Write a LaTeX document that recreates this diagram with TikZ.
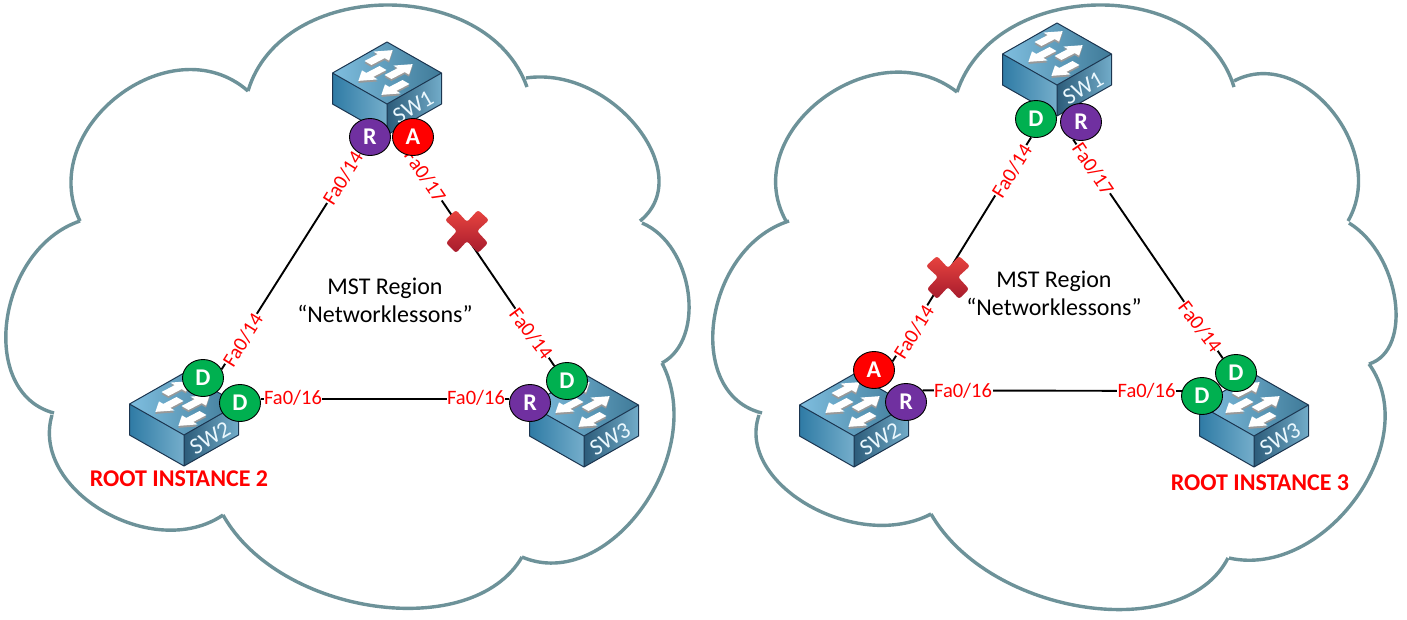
\documentclass[tikz,border=0pt]{standalone}
\usepackage{fontspec}
\setmainfont{Carlito}
\usetikzlibrary{shapes.geometric,backgrounds,calc}
\definecolor{cloudc}{HTML}{6D9299}
\definecolor{greenp}{HTML}{00B050}
\definecolor{purplep}{HTML}{7030A0}
\definecolor{redp}{HTML}{FF0000}
\definecolor{swedge}{HTML}{1B3550}
\definecolor{swtop1}{HTML}{7FBEDF}
\definecolor{swtop2}{HTML}{3F7A98}
\definecolor{swleft1}{HTML}{2F7BA5}
\definecolor{swleft2}{HTML}{75AECB}
\definecolor{swright1}{HTML}{2C5C7A}
\definecolor{swright2}{HTML}{72ACC9}
\definecolor{crosstop}{HTML}{E8443F}
\definecolor{crossbot}{HTML}{A61B2D}
\newcommand{\IsoArrow}[3]{% tail x, tail y, sign
  \begin{scope}[shift={(#1,#2+2)},x={(#3*0.88pt,#3*0.46pt)},y={(0.87pt,-0.5pt)}]
    \fill[black!40] (0,-4) -- (15,-4) -- (15,-9) -- (28,0) -- (15,9) -- (15,4) -- (0,4) -- cycle;
  \end{scope}
  \begin{scope}[shift={(#1,#2)},x={(#3*0.88pt,#3*0.46pt)},y={(0.87pt,-0.5pt)}]
    \fill[white] (0,-4) -- (15,-4) -- (15,-9) -- (28,0) -- (15,9) -- (15,4) -- (0,4) -- cycle;
  \end{scope}}
\newcommand{\Lobe}[3]{%
  \draw[cloudline] let \p1=(#1),\p2=(#2),\p3=(#3),
     \n1={veclen(\x3-\x1,\y3-\y1)},
     \n2={veclen(\x2-(\x1+\x3)/2,\y2-(\y1+\y3)/2)},
     \n3={0.167+0.667*\n2/\n1} in
     (\p1) .. controls
       ({(8*\x2-\x1-\x3)/6-\n3*(\x3-\x1)},{(8*\y2-\y1-\y3)/6-\n3*(\y3-\y1)}) and
       ({(8*\x2-\x1-\x3)/6+\n3*(\x3-\x1)},{(8*\y2-\y1-\y3)/6+\n3*(\y3-\y1)}) .. (\p3);}
\tikzset{
  x=1pt,y=-1pt,
  cloudline/.style={draw=cloudc,line width=3.4pt},
  link/.style={draw=black,line width=1.9pt},
  port/.style={ellipse,draw=black,line width=0.9pt,minimum width=41pt,minimum height=37pt,inner sep=0pt,text=white,font=\fontsize{24}{24}\selectfont\bfseries},
  dport/.style={port,fill=greenp},
  rport/.style={port,fill=purplep},
  aport/.style={port,fill=redp},
  iflabel/.style={text=red,fill=white,inner sep=0.6pt,font=\fontsize{20.5}{20.5}\selectfont},
  regiontext/.style={align=center,text=black,font=\fontsize{24}{28}\selectfont},
  roottext/.style={text=red,font=\fontsize{24}{24}\selectfont\bfseries},
  pics/switchicon/.style={code={
    \shade[shading angle=60,left color=swtop1,right color=swtop2] (0,0) -- (54.5,31) -- (0,62) -- (-54.5,31) -- cycle;
    \shade[shading angle=70,left color=swleft1,right color=swleft2] (-54.5,31) -- (0,62) -- (0,93) -- (-54.5,62) -- cycle;
    \shade[shading angle=-30,left color=swright1,right color=swright2] (0,62) -- (54.5,31) -- (54.5,62) -- (0,93) -- cycle;
    \draw[swedge,line width=1pt,line join=round] (0,0) -- (54.5,31) -- (54.5,62) -- (0,93) -- (-54.5,62) -- (-54.5,31) -- cycle
      (-54.5,31) -- (0,62) -- (54.5,31) (0,62) -- (0,93);
    \IsoArrow{-19}{21}{1}
    \IsoArrow{-4}{26}{-1}
    \IsoArrow{1}{35}{1}
    \IsoArrow{19}{40}{-1}
    \node[rotate=30,text=white!92!cyan,inner sep=0pt,font=\fontsize{23}{23}\selectfont] (-name) at (26,65) {#1};
  }},
  pics/blockx/.style={code={
    \shade[top color=crosstop,bottom color=crossbot,rounded corners=2.5pt]
      (-22,-11) -- (-11,-21) -- (0,-9) -- (11,-21) -- (22,-11) -- (10,0) -- (21,12) -- (11,22) -- (0,10) -- (-11,22) -- (-21,12) -- (-10,0) -- cycle;
  }}
}
\begin{document}
\begin{tikzpicture}
\useasboundingbox (0,0) rectangle (1407,619);

% ports (main layer, above everything on the background layer)
\node[rport] (a1r) at (370,137) {R};
\node[aport] (a1a) at (413,137) {A};
\node[dport] (a2u) at (203,378) {D};
\node[dport] (a2e) at (240,403) {D};
\node[rport] (a3w) at (530,403) {R};
\node[dport] (a3u) at (567,381) {D};
\node[dport] (b1d) at (1036,119) {D};
\node[rport] (b1r) at (1081,122) {R};
\node[aport] (b2a) at (874,370) {A};
\node[rport] (b2r) at (906,402) {R};
\node[dport] (b3u) at (1236,373) {D};
\node[dport] (b3w) at (1202,396) {D};

\begin{scope}[on background layer]
\fill[white] (0,0) rectangle (1407,619);
% left cloud
\Lobe{248,91}{385,5}{527,87}
\Lobe{526,78}{637,127}{640,221}
\Lobe{642,223}{688,292}{662,363}
\Lobe{662,363}{642,508}{522,557}
\Lobe{522,557}{375,606}{223,515}
\Lobe{223,515}{103,511}{52,415}
\Lobe{54,413}{7,320}{80,221}
\Lobe{80,221}{118,96}{248,91}
% right cloud
\Lobe{957,92}{1097,5}{1234,87}
\Lobe{1234,81}{1332,111}{1348,221}
\Lobe{1349,223}{1395,300}{1369,364}
\Lobe{1369,364}{1356,498}{1229,558}
\Lobe{1228,558}{1085,607}{931,514}
\Lobe{931,514}{808,505}{759,415}
\Lobe{762,413}{714,320}{789,221}
\Lobe{786,221}{822,99}{957,92}

% switches
\pic (sa1) at (387,42) {switchicon=SW1};
\pic (sa2) at (184,373) {switchicon=SW2};
\pic (sa3) at (584,374) {switchicon=SW3};
\pic (sb1) at (1057,23) {switchicon=SW1};
\pic (sb2) at (854,374) {switchicon=SW2};
\pic (sb3) at (1254,374) {switchicon=SW3};

% connectors
\draw[link] (a1r.235) -- (a2u.25);
\draw[link] (a1a.265) -- (a3u.130);
\draw[link] (a2e.10) -- (a3w.170);
\draw[link] (b1d.255) -- (b2a.25);
\draw[link] (b1r.246) -- (b3u.132);
\draw[link] (b2r.35) -- (b3w.166);

% interface labels
\node[iflabel,rotate=58] (la1) at (343,178) {Fa0/14};
\node[iflabel,rotate=-56] (la2) at (425,176) {Fa0/17};
\node[iflabel,rotate=58] (la3) at (243,340) {Fa0/14};
\node[iflabel] (la4) at (293,398) {Fa0/16};
\node[iflabel] (la5) at (476,398) {Fa0/16};
\node[iflabel,rotate=-53] (la6) at (531,334) {Fa0/14};
\node[iflabel,rotate=58] (lb1) at (1012,171) {Fa0/14};
\node[iflabel,rotate=-56] (lb2) at (1093,169) {Fa0/17};
\node[iflabel,rotate=58] (lb3) at (914,332) {Fa0/14};
\node[iflabel,rotate=-53] (lb4) at (1200,327) {Fa0/14};
\node[iflabel] (lb5) at (963,391) {Fa0/16};
\node[iflabel] (lb6) at (1146.5,391) {Fa0/16};
\end{scope}

% blocked markers
\pic at (467,231) {blockx};
\pic at (948,277) {blockx};

% texts
\node[regiontext] (ra) at (385,300.5) {MST Region\\“Networklessons”};
\node[regiontext] (rb) at (1054,293.5) {MST Region\\“Networklessons”};
\node[roottext] (ia) at (179,479) {ROOT INSTANCE 2};
\node[roottext] (ib) at (1260,483) {ROOT INSTANCE 3};
\end{tikzpicture}
\end{document}
